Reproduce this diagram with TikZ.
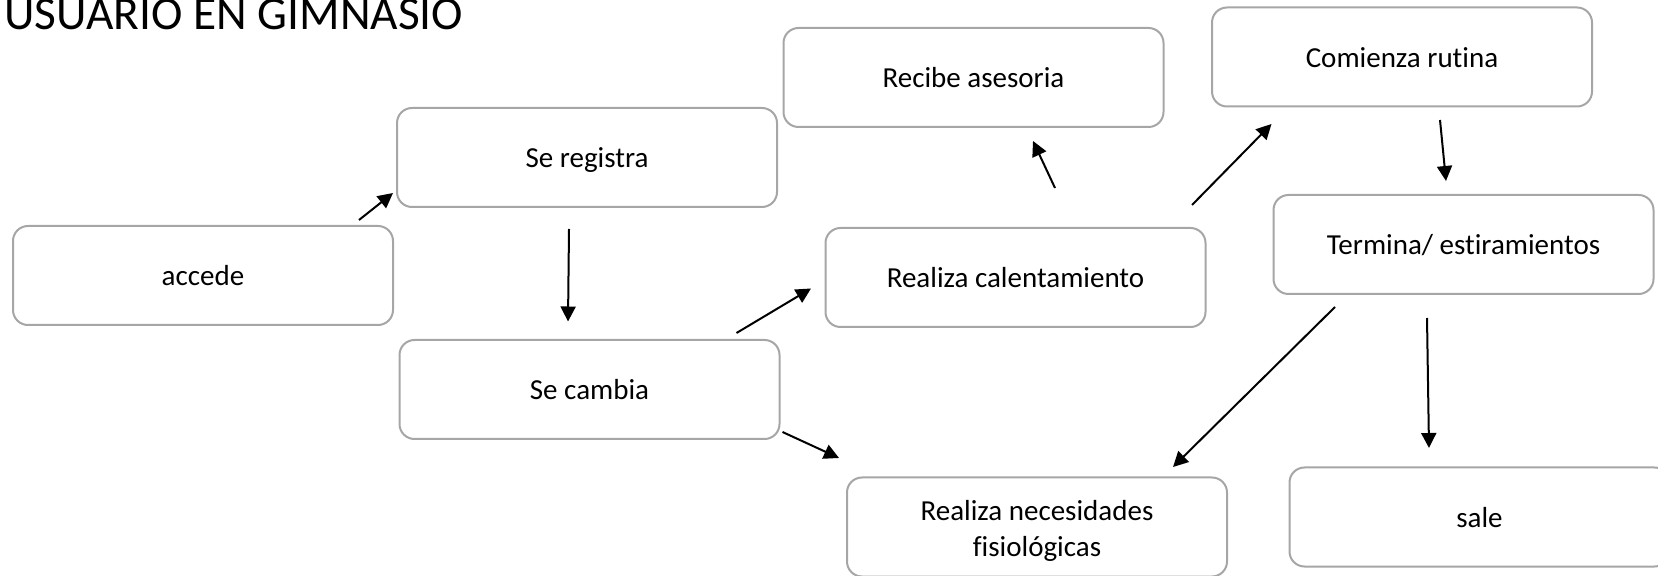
\documentclass[tikz,border=0pt]{standalone}
\usepackage{fontspec}
\setmainfont{Carlito}[Ligatures=NoCommon]
\usetikzlibrary{arrows.meta}
\definecolor{boxgray}{HTML}{A6A6A6}
\tikzset{
  stepbox/.style={draw=boxgray, line width=1pt, rounded corners=7.5pt,
    minimum width=190pt, minimum height=49.5pt, inner sep=2pt,
    align=center, font=\fontsize{14.5}{18.3}\selectfont,
    text height=11.5pt, text depth=1pt},
  twoline/.style={text height=30.7pt, text depth=1pt},
  flow/.style={line width=1pt, -{Triangle[length=7.5pt,width=7.5pt]}},
  titletext/.style={font=\fontsize{23.7}{28}\selectfont, inner sep=0pt, anchor=base west}
}
\begin{document}
\begin{tikzpicture}[x=0.5pt,y=-0.5pt]
\useasboundingbox (0,0) rectangle (1658,576);
\node[titletext] (title) at (4,30) {USUARIO EN GIMNASIO};

\node[stepbox] (accede) at (203,275.5) {accede};
\node[stepbox] (registra) at (587,157.5) {Se registra};
\node[stepbox] (cambia) at (589.5,389.5) {Se cambia};
\node[stepbox] (asesoria) at (973.5,77.5) {Recibe asesoria};
\node[stepbox] (calent) at (1015.5,277.5) {Realiza calentamiento};
\node[stepbox] (comienza) at (1402,57) {Comienza rutina};
\node[stepbox] (termina) at (1463.5,244.5) {Termina/ estiramientos};
\node[stepbox, twoline] (necesidades) at (1037,527) {Realiza necesidades\\fisiológicas};
\node[stepbox] (sale) at (1479.5,517) {sale};

\coordinate (a1s) at (359,220);   \coordinate (a1e) at (393,193);
\coordinate (a2s) at (569,229);   \coordinate (a2e) at (568,321.5);
\coordinate (a3s) at (736.5,333); \coordinate (a3e) at (811,288.5);
\coordinate (a4s) at (782.5,432); \coordinate (a4e) at (839,458);
\coordinate (a5s) at (1055,188);  \coordinate (a5e) at (1033,141);
\coordinate (a6s) at (1192,205);  \coordinate (a6e) at (1271.5,124);
\coordinate (a7s) at (1440,120);  \coordinate (a7e) at (1446,181);
\coordinate (a8s) at (1335,307);  \coordinate (a8e) at (1173,467);
\coordinate (a9s) at (1427,318);  \coordinate (a9e) at (1429,448);

\draw[flow] (a1s) -- (a1e);
\draw[flow] (a2s) -- (a2e);
\draw[flow] (a3s) -- (a3e);
\draw[flow] (a4s) -- (a4e);
\draw[flow] (a5s) -- (a5e);
\draw[flow] (a6s) -- (a6e);
\draw[flow] (a7s) -- (a7e);
\draw[flow] (a8s) -- (a8e);
\draw[flow] (a9s) -- (a9e);
\end{tikzpicture}
\end{document}
